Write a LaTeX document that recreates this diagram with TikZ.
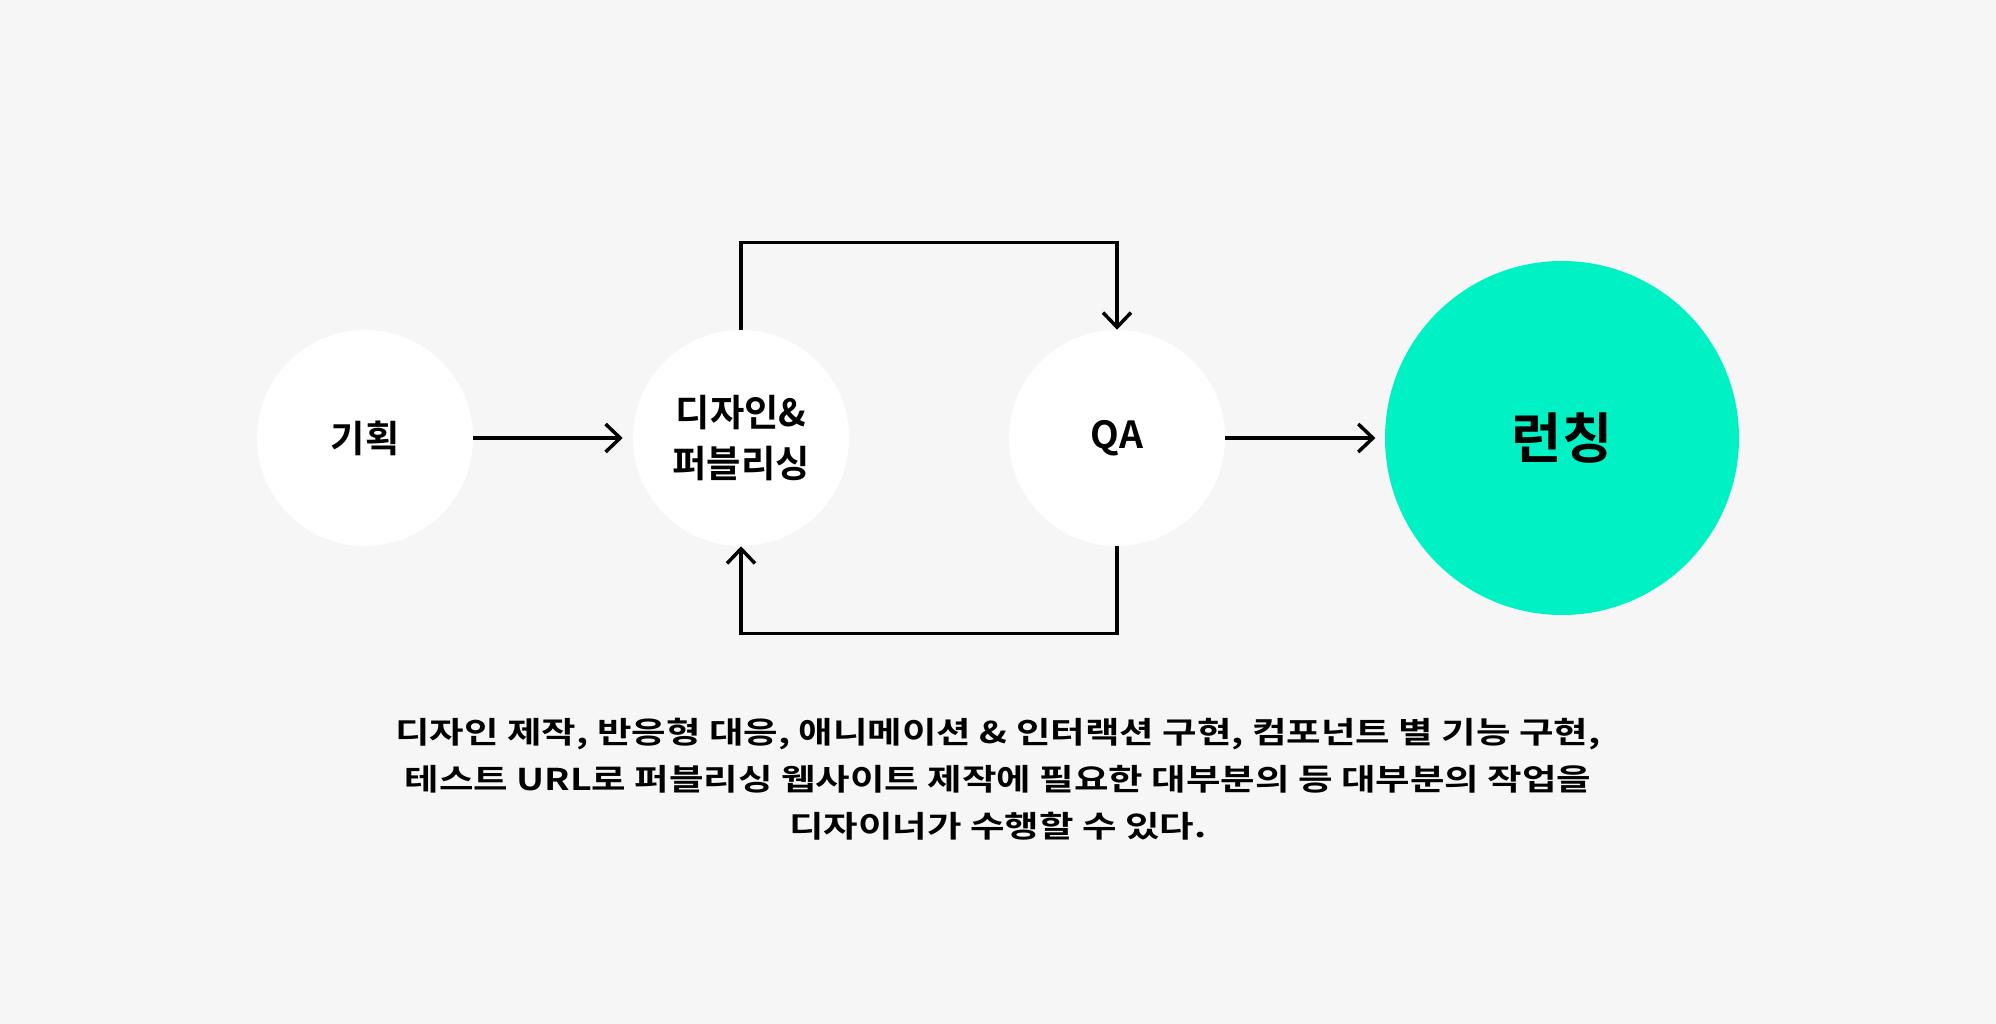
\documentclass[tikz,border=0pt]{standalone}
\usepackage{fontspec}
\setmainfont{Noto Sans CJK KR}[BoldFont={Noto Sans CJK KR Bold}]
\newfontfamily\notefont{Noto Sans CJK KR}[BoldFont={Noto Sans CJK KR Bold},FakeStretch=1.25]
\usetikzlibrary{arrows.meta}
\definecolor{pagebg}{HTML}{F6F6F6}
\definecolor{launchgreen}{HTML}{00F2C4}
\tikzset{
  stage/.style = {
    circle, fill=white, inner sep=0pt, minimum size=162pt,
    font=\bfseries\fontsize{28}{36}\selectfont, align=center
  },
  flow/.style = {line width=2.6pt, -{Straight Barb[length=11pt,width=21pt]}}
}

\begin{document}
\begin{tikzpicture}[x=0.75pt,y=-0.75pt]
  \useasboundingbox[fill=pagebg] (0,0) rectangle (1996,1024);
  %
  \node[stage] (plan) at (365,438) {기획};
  \node[stage] (design) at (741,438) {디자인\&\\[2pt]퍼블리싱};
  \node[stage] (qa) at (1117,438) {QA};
  \node[stage, fill=launchgreen, minimum size=265.5pt,
    font=\bfseries\fontsize{41}{50}\selectfont] (launch) at (1562,438) {런칭};
  %
  \draw[flow, shorten >=7.5pt] (plan.east) -- (design.west);
  \draw[flow, shorten >=7pt] (qa.east) -- (launch.west);
  %
  \draw[flow] (design.north) -- ++(0,-87) -| (qa.north);
  \draw[flow] (qa.south) -- ++(0,87) -| (design.south);
  %
  \node[font=\notefont\bfseries\fontsize{22.5}{35.25}\selectfont, align=center] (note) at (998,779)
    {디자인 제작, 반응형 대응, 애니메이션 \& 인터랙션 구현, 컴포넌트 별 기능 구현,\\
     테스트 URL로 퍼블리싱 웹사이트 제작에 필요한 대부분의 등 대부분의 작업을\\
     디자이너가 수행할 수 있다.};
\end{tikzpicture}
\end{document}
